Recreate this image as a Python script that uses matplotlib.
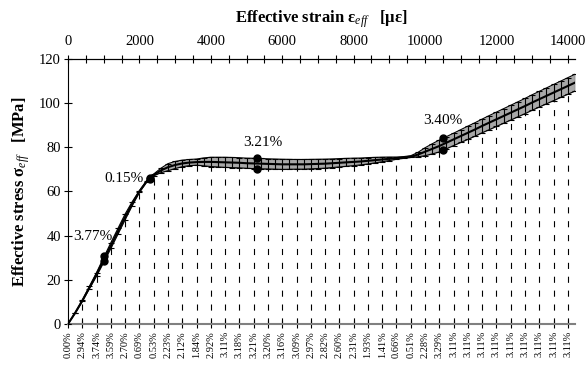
import numpy as np
import matplotlib.pyplot as plt
from matplotlib.ticker import MultipleLocator

plt.rcParams['font.family'] = 'Liberation Serif'
plt.rcParams['mathtext.fontset'] = 'custom'
plt.rcParams['mathtext.rm'] = 'Liberation Serif'
plt.rcParams['mathtext.it'] = 'Liberation Serif:italic'
plt.rcParams['mathtext.bf'] = 'Liberation Serif:bold'

# effective strain [microstrain], sampled every 200
strain = np.arange(0, 14201, 200)
# mean effective stress [MPa]
mean = [0, 5, 10.5, 16.5, 22.5, 29, 35.5, 42, 48.5, 54.5,
        60, 64.5, 67.5, 69.5, 71, 72, 72.7, 73.1, 73.3, 73.4,
        73.4, 73.3, 73.2, 73.1, 73.0, 72.8, 72.7, 72.6, 72.5, 72.4,
        72.3, 72.3, 72.3, 72.3, 72.4, 72.5, 72.6, 72.8, 73.0, 73.2,
        73.4, 73.6, 73.9, 74.2, 74.5, 74.8, 75.1, 75.4, 75.8, 76.7,
        78.0, 79.3, 80.6, 82.1, 83.6, 85.1, 86.6, 88.1, 89.7, 91.2,
        92.7, 94.2, 95.7, 97.2, 98.7, 100.3, 101.8, 103.3, 104.8, 106.3,
        107.8, 109.3]
# scatter (half width of error bars) [MPa]
spread = [0, 0.15, 0.3, 0.5, 0.8, 1.1, 1.3, 1.3, 1.3, 0.9,
          0.4, 0.3, 0.4, 1.0, 1.6, 1.6, 1.5, 1.4, 1.4, 1.8,
          2.1, 2.2, 2.3, 2.3, 2.3, 2.3, 2.35, 2.35, 2.3, 2.3,
          2.3, 2.25, 2.2, 2.2, 2.15, 2.1, 2.05, 1.95, 1.9, 1.8,
          1.7, 1.55, 1.45, 1.25, 1.05, 0.8, 0.5, 0.4, 0.4, 1.0,
          1.8, 2.3, 2.7, 2.75, 2.8, 2.9, 3.0, 3.05, 3.1, 3.2,
          3.25, 3.3, 3.35, 3.4, 3.45, 3.5, 3.55, 3.6, 3.65, 3.7,
          3.75, 3.8]

# coefficient of variation every 400 microstrain (bottom labels)
cv_labels = ['0.00%', '2.94%', '3.74%', '3.59%', '2.70%', '0.69%', '0.53%', '2.23%',
             '2.12%', '1.84%', '2.92%', '3.11%', '3.18%', '3.21%', '3.20%', '3.16%',
             '3.09%', '2.97%', '2.82%', '2.60%', '2.31%', '1.93%', '1.41%', '0.66%',
             '0.51%', '2.28%', '3.29%', '3.11%', '3.11%', '3.11%', '3.11%', '3.11%',
             '3.11%', '3.11%', '3.11%', '3.11%']
cv_pos = strain[::2][:len(cv_labels)]

# highlighted points
mark_strain = [1000, 2300, 5300, 10500]
mark_upper = [30.8, 66.1, 75.1, 84.0]
mark_lower = [28.6, 65.8, 70.2, 78.6]
mark_text = ['3.77%', '0.15%', '3.21%', '3.40%']
text_pos = [(700, 39.5, 'center'), (2120, 66, 'right'), (5450, 82, 'center'), (10490, 92, 'center')]

mean = np.array(mean)
spread = np.array(spread)

fig = plt.figure(figsize=(5.87, 3.68), dpi=100)
ax = fig.add_axes([0.1158, 0.1196, 0.8638, 0.7201])

ax.vlines(cv_pos, 0, mean[::2][:len(cv_labels)], colors='black', linewidth=0.8,
          linestyles=(0, (5.5, 7)), zorder=1)
ax.fill_between(strain, mean - spread, mean + spread, color='#a8a8a8', linewidth=0, zorder=2)
ax.plot(strain, mean + spread, color='black', linewidth=0.8, zorder=3)
ax.plot(strain, mean - spread, color='black', linewidth=0.8, zorder=3)
ax.errorbar(strain, mean, yerr=spread, fmt='none', ecolor='black', elinewidth=0.8,
            capsize=2, capthick=0.8, zorder=3)
ax.plot(strain, mean, color='black', linewidth=1.5, zorder=4)
ax.plot(mark_strain, mark_upper, 'o', color='black', markersize=5, zorder=5)
ax.plot(mark_strain, mark_lower, 'o', color='black', markersize=5, zorder=5)
for t, (tx, ty, ha) in zip(mark_text, text_pos):
    ax.text(tx, ty, t, fontsize=11, ha=ha, va='center', zorder=6)

ax.set_xlim(0, 14200)
ax.set_ylim(0, 120)
ax.set_yticks(np.arange(0, 121, 20))
ax.tick_params(axis='y', direction='inout', length=6, width=0.8, labelsize=10.5, pad=2)
ax.set_xticks(cv_pos)
ax.set_xticklabels(cv_labels, rotation=90, fontsize=7.5)
ax.tick_params(axis='x', direction='inout', length=6, width=0.8, pad=2)
ax.spines['right'].set_visible(False)
ax.spines['bottom'].set_color('#808080')
ax.spines['bottom'].set_linewidth(1.5)
ax.spines['left'].set_linewidth(0.8)
ax.spines['top'].set_linewidth(0.8)
ax.set_ylabel(r'Effective stress σ$_{eff}$   [MPa]', fontsize=12, fontweight='bold', labelpad=5)

top = ax.secondary_xaxis('top')
top.set_xticks(np.arange(0, 14001, 2000))
top.xaxis.set_minor_locator(MultipleLocator(500))
top.tick_params(which='both', direction='inout', length=6, width=0.8, labelsize=10.5, pad=5)
top.spines['top'].set_linewidth(0.8)
top.set_xlabel(r'Effective strain ε$_{eff}$   [με]', fontsize=12, fontweight='bold', labelpad=9)

fig.savefig('out.png', dpi=100)
